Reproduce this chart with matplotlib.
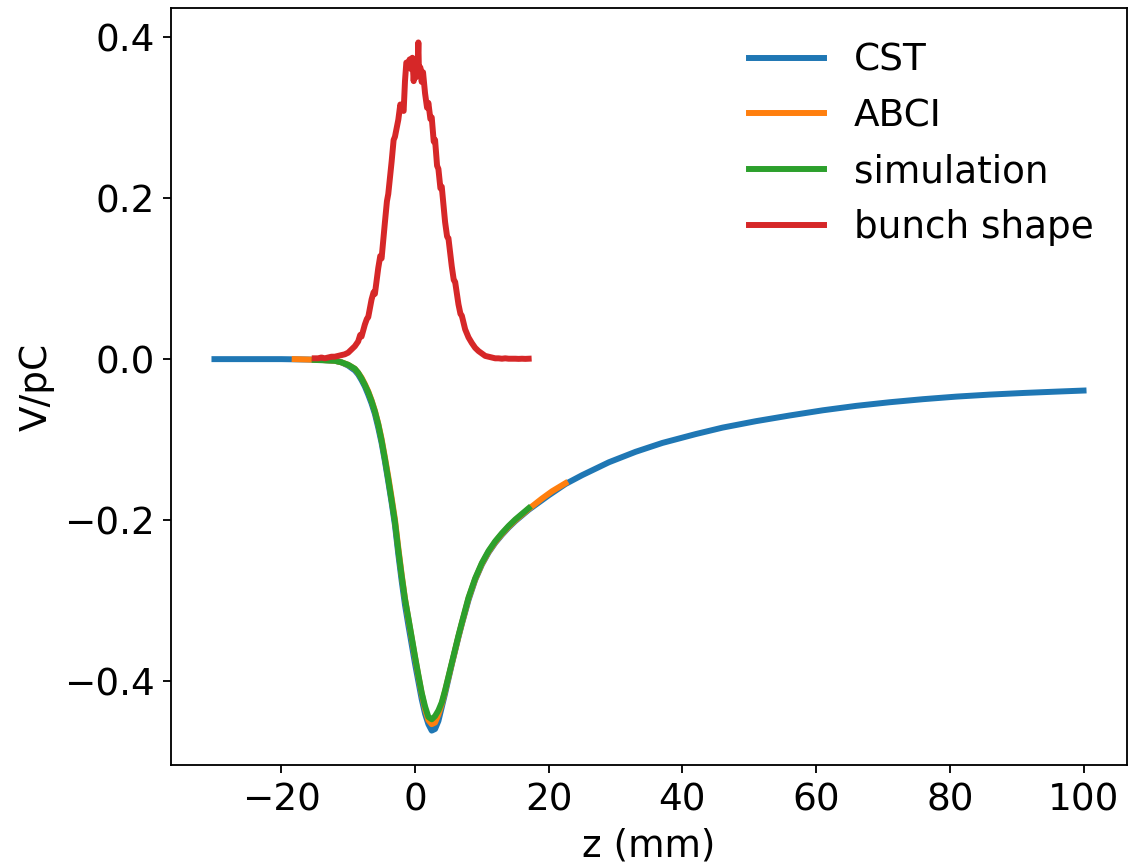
import matplotlib
matplotlib.use("Agg")
import matplotlib.pyplot as plt

# Wake potential from CST (mm, V/pC)
cst_z = [-30, -25, -20, -16, -14, -12, -11, -10, -9, -8.5, -8, -7.5, -7,
         -6.5, -6, -5.5, -5, -4.5, -4, -3.5, -3, -2.5, -2, -1.5, -1, -0.5,
         0, 0.5, 1, 1.5, 2, 2.5, 3, 3.5, 4, 4.5, 5, 5.5, 6, 6.5, 7, 8, 9,
         10, 11, 12, 13, 14, 15, 17, 20, 22.5, 25, 29, 33, 37, 42, 46, 51,
         56, 61, 66, 71, 76, 81, 86, 91, 96, 100]
cst_v = [0.0, 0.0, 0.0, -0.0005, -0.001, -0.002, -0.004, -0.008, -0.014,
         -0.019, -0.026, -0.034, -0.044, -0.055, -0.068, -0.085, -0.104,
         -0.127, -0.152, -0.178, -0.206, -0.242, -0.275, -0.305, -0.330,
         -0.354, -0.378, -0.400, -0.422, -0.440, -0.453, -0.461, -0.459,
         -0.449, -0.432, -0.415, -0.397, -0.379, -0.362, -0.345, -0.329,
         -0.299, -0.274, -0.255, -0.240, -0.228, -0.218, -0.209, -0.201,
         -0.187, -0.169, -0.155, -0.144, -0.128, -0.115, -0.104, -0.093,
         -0.085, -0.077, -0.0700, -0.0635, -0.0580, -0.0535, -0.0497,
         -0.0465, -0.0440, -0.0420, -0.0403, -0.0390]

# Wake potential from ABCI
abci_z = [-18, -16, -14, -12, -11, -10, -9, -8.5, -8, -7.5, -7, -6.5, -6,
          -5.5, -5, -4.5, -4, -3.5, -3, -2.5, -2, -1.5, -1, -0.5, 0, 0.5, 1,
          1.5, 2, 2.5, 3, 3.5, 4, 4.5, 5, 5.5, 6, 6.5, 7, 8, 9, 10, 11, 12,
          13, 14, 15, 17, 19, 20.5, 22.5]
abci_v = [0.0, -0.0005, -0.001, -0.002, -0.004, -0.007, -0.012, -0.017,
          -0.023, -0.031, -0.040, -0.051, -0.064, -0.080, -0.099, -0.122,
          -0.146, -0.172, -0.199, -0.234, -0.267, -0.297, -0.322, -0.346,
          -0.370, -0.393, -0.415, -0.434, -0.448, -0.453, -0.451, -0.441,
          -0.428, -0.412, -0.395, -0.378, -0.361, -0.344, -0.328, -0.297,
          -0.273, -0.254, -0.239, -0.227, -0.217, -0.208, -0.200, -0.186,
          -0.173, -0.164, -0.154]

# Wake potential from our own simulation
sim_z = [-15, -12, -11, -10, -9, -8.5, -8, -7.5, -7, -6.5, -6, -5.5, -5,
         -4.5, -4, -3.5, -3, -2.5, -2, -1.5, -1, -0.5, 0, 0.5, 1, 1.5, 2,
         2.5, 3, 3.5, 4, 4.5, 5, 5.5, 6, 6.5, 7, 8, 9, 10, 11, 12, 13, 14,
         15, 16, 17]
sim_v = [-0.001, -0.002, -0.004, -0.007, -0.012, -0.017, -0.024, -0.032,
         -0.041, -0.052, -0.065, -0.081, -0.101, -0.124, -0.149, -0.175,
         -0.202, -0.237, -0.269, -0.298, -0.321, -0.345, -0.369, -0.392,
         -0.414, -0.431, -0.444, -0.447, -0.443, -0.436, -0.426, -0.411,
         -0.394, -0.377, -0.360, -0.343, -0.327, -0.296, -0.272, -0.253,
         -0.238, -0.226, -0.216, -0.207, -0.199, -0.192, -0.185]

# Longitudinal bunch profile
bunch_z = [-15.0, -14.5, -14.0, -13.5, -13.0, -12.5, -12.0, -11.5, -11.0,
           -10.5, -10.0, -9.5, -9.0, -8.5, -8.2, -8.0, -7.5, -7.2, -7.0,
           -6.5, -6.2, -6.0, -5.5, -5.2, -5.0, -4.5, -4.2, -4.0, -3.5, -3.2,
           -3.0, -2.5, -2.2, -2.0, -1.7, -1.5, -1.3, -1.0, -0.8, -0.6, -0.4,
           -0.2, 0.0, 0.2, 0.4, 0.5, 0.6, 0.8, 1.0, 1.2, 1.5, 1.8, 2.0, 2.3,
           2.5, 2.8, 3.0, 3.3, 3.5, 3.8, 4.0, 4.5, 4.8, 5.0, 5.5, 5.8, 6.0,
           6.5, 6.8, 7.0, 7.5, 8.0, 8.5, 9.0, 9.5, 10.0, 10.5, 11.0, 11.5,
           12.0, 12.5, 13.0, 13.5, 14.0, 14.5, 15.0, 15.5, 16.0, 16.5, 17.0]
bunch_v = [0.001, 0.001, 0.002, 0.001, 0.002, 0.003, 0.003, 0.004, 0.005,
           0.006, 0.008, 0.012, 0.016, 0.022, 0.030, 0.028, 0.043, 0.050,
           0.052, 0.074, 0.083, 0.081, 0.113, 0.128, 0.125, 0.170, 0.196,
           0.205, 0.245, 0.272, 0.276, 0.297, 0.316, 0.312, 0.308, 0.345,
           0.368, 0.366, 0.372, 0.360, 0.374, 0.345, 0.372, 0.350, 0.368,
           0.393, 0.352, 0.362, 0.344, 0.356, 0.330, 0.312, 0.318, 0.298,
           0.300, 0.270, 0.272, 0.240, 0.236, 0.212, 0.214, 0.170, 0.152,
           0.150, 0.115, 0.098, 0.096, 0.068, 0.056, 0.054, 0.037, 0.027,
           0.020, 0.014, 0.010, 0.007, 0.004, 0.003, 0.002, 0.001, 0.001,
           0.0005, 0.001, 0.0005, 0.0005, 0.0005, 0.0003, 0.0005, 0.0003,
           0.0005]

plt.rcParams["font.size"] = 16.3

fig = plt.figure(figsize=(1128 / 165, 865 / 165), dpi=165)
ax = fig.add_axes([0.1516, 0.1156, 0.8475, 0.8751])

lw = 2.6
ax.plot(cst_z, cst_v, color="#1f77b4", lw=lw, label="CST")
ax.plot(abci_z, abci_v, color="#ff7f0e", lw=lw, label="ABCI")
ax.plot(sim_z, sim_v, color="#2ca02c", lw=lw, label="simulation")
ax.plot(bunch_z, bunch_v, color="#d62728", lw=lw, label="bunch shape")

ax.set_xticks([-20, 0, 20, 40, 60, 80, 100])
ax.set_yticks([-0.4, -0.2, 0.0, 0.2, 0.4])
ax.set_xlabel("z (mm)")
ax.set_ylabel("V/pC")
ax.legend(loc="upper right", frameon=False)

fig.savefig("out.png", dpi=165)
